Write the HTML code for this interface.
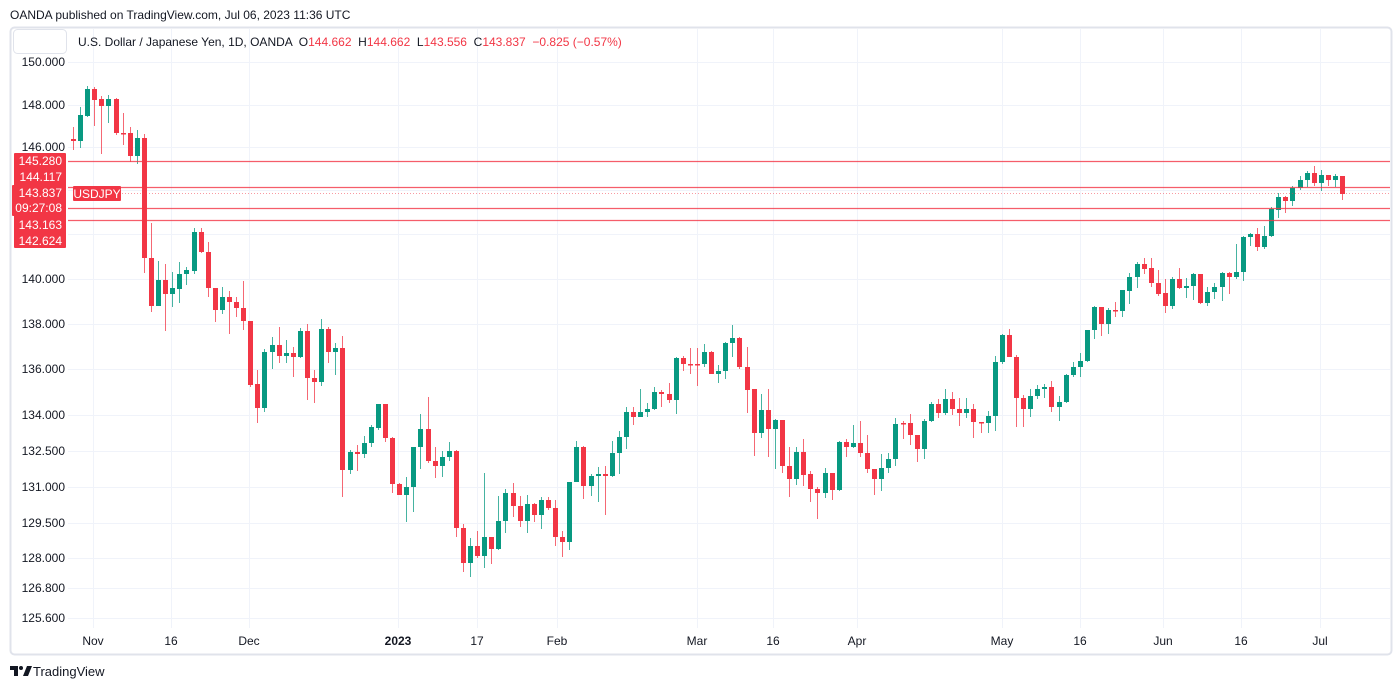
<!DOCTYPE html>
<html><head><meta charset="utf-8">
<style>
html,body{margin:0;padding:0;background:#fff;}
body{width:1400px;height:688px;overflow:hidden;position:relative;font-family:"Liberation Sans",sans-serif;}
svg{position:absolute;left:0;top:0;}
.pre{white-space:pre;}
</style></head>
<body>
<svg id="s" width="1400" height="688" xmlns="http://www.w3.org/2000/svg" font-family="Liberation Sans, sans-serif">
<text x="10" y="19" font-size="12" fill="#131722">OANDA published on TradingView.com, Jul 06, 2023 11:36 UTC</text>
<rect x="10.5" y="27.5" width="1381" height="627" rx="4" fill="#fff" stroke="#e0e3eb" stroke-width="2"/>
<g id="grid" stroke="#f0f3fa" stroke-width="1"></g>
<g id="cand"></g>
<g id="lines"></g>
<rect x="13.5" y="29.5" width="53" height="24" rx="4" fill="#fff" stroke="#e0e3eb"/>
<text class="pre" x="78" y="46" font-size="12" fill="#131722">U.S. Dollar / Japanese Yen, 1D, OANDA  O<tspan fill="#f23645">144.662</tspan>  H<tspan fill="#f23645">144.662</tspan>  L<tspan fill="#f23645">143.556</tspan>  C<tspan fill="#f23645">143.837</tspan>  <tspan fill="#f23645">−0.825 (−0.57%)</tspan></text>
<g id="ylab" font-size="12" fill="#131722" text-anchor="end"></g>
<g id="xlab" font-size="12" fill="#131722" text-anchor="middle"></g>
<g id="tags"></g>
<g transform="translate(10,665)" fill="#131722">
<path d="M0 1h8v10h-4v-6h-4z"/><circle cx="11" cy="3" r="2"/><path d="M13 11l4-10h5l-4 10z"/>
</g>
<text x="33" y="676" font-size="13" fill="#131722">TradingView</text>
</svg>
<script>
var NS="http://www.w3.org/2000/svg";
function el(p,t,a,txt){var e=document.createElementNS(NS,t);for(var k in a)e.setAttribute(k,a[k]);if(txt!=null)e.textContent=txt;document.getElementById(p).appendChild(e);return e;}
var yl=[["150.000",62],["148.000",105],["146.000",147],["144.000",190],["142.000",234],["140.000",279],["138.000",324],["136.000",369],["134.000",415],["132.500",451],["131.000",487],["129.500",523],["128.000",558],["126.800",588],["125.600",618]];
yl.forEach(function(l){el("grid","line",{x1:68,x2:1390,y1:l[1]+.5,y2:l[1]+.5});el("ylab","text",{x:65,y:l[1]+4},l[0]);});
var xl=[["Nov",93],["16",171],["Dec",249],["2023",398],["17",477],["Feb",557],["Mar",697],["16",773],["Apr",857],["May",1002],["16",1080],["Jun",1163],["16",1241],["Jul",1320]];
xl.forEach(function(l){el("grid","line",{x1:l[1]+.5,x2:l[1]+.5,y1:29,y2:628});var t=el("xlab","text",{x:l[1],y:645},l[0]);if(l[0]=="2023")t.setAttribute("font-weight","bold");});
var D="r 139 141 127 150|g 141 115 107 148|g 116 89 86 117|r 89 100 87 126|r 99 106 96 154|g 106 99 95 123|r 99 133 98 135|r 133 134 113 145|r 133 156 127 162|g 156 138 130 164|r 138 258 134 273|r 258 306 223 312|g 306 280 261 306|r 280 294 264 331|g 294 288 272 307|g 289 274 262 303|g 274 270 267 285|g 271 232 228 274|r 232 252 228 253|r 252 288 242 297|r 288 310 288 322|g 310 297 287 314|r 297 302 291 334|r 302 308 297 317|r 308 321 281 330|r 321 385 321 387|r 384 408 370 423|g 408 352 349 412|g 352 345 337 369|r 345 356 327 363|g 356 353 340 363|r 353 357 347 377|g 357 331 328 358|r 331 378 324 400|r 378 382 370 403|g 382 329 319 386|r 329 352 327 363|g 352 348 343 375|r 348 470 336 497|g 470 452 450 474|r 452 454 445 471|g 454 443 436 458|g 443 427 425 447|g 428 404 404 430|r 404 438 404 442|r 438 484 437 493|r 484 495 483 495|g 495 487 477 522|g 487 447 447 512|g 447 429 414 469|r 429 461 397 463|r 461 466 447 478|g 466 457 451 477|g 457 451 442 461|r 451 528 450 537|r 528 563 524 572|g 563 546 538 577|r 546 556 531 558|g 556 537 473 568|r 537 549 537 564|g 549 521 496 550|g 521 493 489 533|r 493 506 483 517|r 506 521 496 527|g 521 504 495 533|r 504 515 503 522|g 515 500 497 529|r 500 508 497 510|r 508 537 500 546|r 537 542 531 557|g 542 482 482 550|g 482 447 441 482|r 447 486 446 499|g 486 476 474 496|g 476 474 467 502|r 474 476 466 515|g 476 453 441 477|g 453 437 431 474|g 437 412 407 449|r 412 417 407 425|g 417 412 389 417|g 412 409 403 417|g 409 392 387 410|r 392 394 390 407|r 394 400 383 403|g 400 358 357 414|r 358 364 356 371|r 364 365 348 374|r 364 365 348 386|g 364 352 344 367|r 352 374 351 374|g 374 371 365 383|g 371 343 342 379|g 343 338 325 357|r 338 367 337 369|r 367 390 347 413|r 389 433 389 456|g 433 410 394 438|r 410 429 389 457|g 429 420 419 469|r 420 466 420 473|r 466 479 447 497|g 479 452 447 485|r 452 475 439 486|r 474 489 471 502|r 489 493 487 519|g 493 473 468 498|r 473 490 473 500|g 490 442 441 491|r 442 447 439 457|g 447 443 425 448|r 443 453 421 457|r 453 469 435 473|r 469 479 469 495|g 479 468 454 491|g 468 459 453 473|g 459 424 418 466|r 423 424 421 439|r 423 435 414 445|r 435 449 435 462|g 449 421 419 459|g 421 404 402 422|r 404 413 399 418|g 413 399 389 415|r 399 409 392 415|r 409 413 398 426|g 413 409 398 418|r 409 422 404 438|r 422 423 422 433|g 423 416 411 433|g 416 362 356 431|g 362 335 334 364|r 335 357 329 357|r 357 398 355 427|r 398 409 395 427|g 409 396 389 417|g 396 389 385 399|g 389 387 384 398|r 387 407 381 412|g 407 402 396 421|g 402 375 374 403|g 375 367 362 377|g 367 361 353 377|g 361 330 330 362|g 330 307 306 339|r 307 324 307 336|g 324 310 308 334|r 310 311 302 317|g 311 290 290 317|g 291 277 273 304|g 277 264 262 288|r 264 269 258 274|r 268 283 258 287|r 283 294 270 296|r 293 306 279 313|g 306 279 277 309|r 279 288 268 289|g 288 286 278 298|g 286 274 273 300|r 274 303 274 304|g 303 292 287 306|g 292 287 283 299|g 287 273 272 301|r 273 277 272 294|g 277 272 244 279|g 272 237 236 281|g 237 234 233 246|r 234 247 228 251|g 247 236 226 249|g 236 209 207 237|g 210 197 193 218|r 197 201 196 213|g 201 188 186 206|g 188 180 176 190|g 180 173 171 187|r 173 183 166 186|g 183 175 170 191|r 175 180 175 186|g 180 176 174 187|r 176 194 176 200";
D.split("|").forEach(function(s,i){var p=s.split(" ");var c=p[0]=="g"?"#089981":"#f23645";var o=+p[1],cl=+p[2],h=+p[3],l=+p[4];
var x=Math.round(73+i*7.09);
el("cand","rect",{x:x,y:h,width:1,height:Math.max(1,l-h),fill:c,"fill-opacity":0.75});
var t=Math.min(o,cl),b=Math.max(o,cl);
el("cand","rect",{x:x-2,y:t,width:5,height:Math.max(1.5,b-t),fill:c});});
[161,187,208,220].forEach(function(y){el("lines","line",{x1:68,x2:1390,y1:y+.5,y2:y+.5,stroke:"#f23645","stroke-opacity":0.8,"stroke-width":1.2});});
el("lines","line",{x1:122,x2:1390,y1:193.5,y2:193.5,stroke:"#f23645","stroke-opacity":0.5,"stroke-dasharray":"1 2"});
el("tags","rect",{x:14,y:153,width:52,height:95,fill:"#f23645",rx:1});
el("tags","rect",{x:12,y:185,width:54,height:31,fill:"#f23645",rx:1});
el("tags","rect",{x:73,y:186,width:48,height:15,fill:"#f23645",rx:1});
var tg=[["145.280",165],["144.117",181],["143.837",197],["09:27:08",212],["143.163",229],["142.624",245]];
tg.forEach(function(t){el("tags","text",{x:62,y:t[1],"font-size":12,fill:"#fff","text-anchor":"end"},t[0]);});
el("tags","text",{x:97,y:198,"font-size":12,fill:"#fff","text-anchor":"middle"},"USDJPY");
</script>
</body></html>
